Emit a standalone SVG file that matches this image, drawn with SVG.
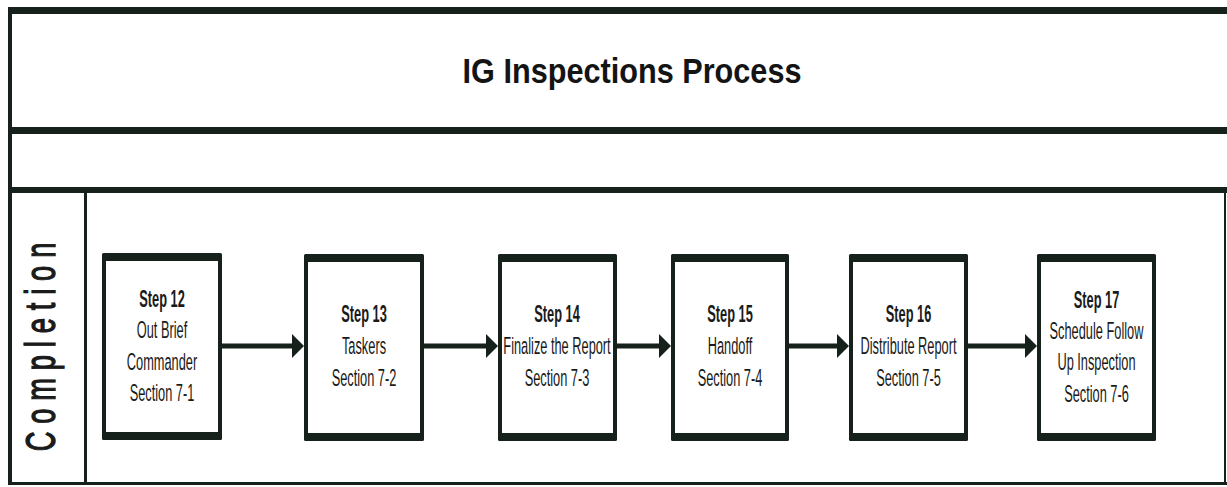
<svg xmlns="http://www.w3.org/2000/svg" width="1227" height="487" viewBox="0 0 1227 487">
  <defs>
    <style>
      .ln { fill: #17211c; }
      .bx { fill: #17211c; }
      .in { fill: #ffffff; }
      .t { font-family: "Liberation Sans", Arial, sans-serif; font-size: 23.7px; fill: #1a1a1a; text-anchor: middle; }
      .b { font-weight: bold; }
      .title { font-family: "Liberation Sans", Arial, sans-serif; font-size: 35px; font-weight: bold; fill: #141414; text-anchor: middle; }
      .lane { font-family: "Liberation Sans", Arial, sans-serif; font-size: 42px; fill: #1a1a1a; stroke: #1a1a1a; stroke-width: 1.3; text-anchor: middle; }
      .con { stroke: #17211c; stroke-width: 5; fill: none; }
    </style>
    <marker id="ah" markerUnits="userSpaceOnUse" markerWidth="12" markerHeight="24" refX="6" refY="12" orient="auto">
      <path d="M0,0 L12,12 L0,24 Z" fill="#17211c"/>
    </marker>
  </defs>

  <rect width="1227" height="487" fill="#ffffff"/>

  <g id="frame">
    <rect class="ln" x="9" y="7" width="1218" height="7"/>
    <rect class="ln" x="9" y="127" width="1218" height="7"/>
    <rect class="ln" x="9" y="187" width="1218" height="6"/>
    <rect class="ln" x="8" y="7" width="4" height="478"/>
    <rect class="ln" x="8" y="482" width="1219" height="3"/>
    <rect class="ln" x="1224" y="190" width="2" height="295"/>
    <rect class="ln" x="84" y="190" width="3" height="295"/>
  </g>

  <g id="title">
    <text class="title" transform="translate(632,83) scale(0.876,1)">IG Inspections Process</text>
  </g>

  <g id="lane-completion">
    <text class="lane" transform="translate(55,347) rotate(-90) scale(0.65,1)" textLength="321" lengthAdjust="spacing">Completion</text>
  </g>

  <g id="connectors">
    <line class="con" x1="222" y1="346" x2="298" y2="346" marker-end="url(#ah)"/>
    <line class="con" x1="424" y1="346" x2="492" y2="346" marker-end="url(#ah)"/>
    <line class="con" x1="616" y1="346" x2="665" y2="346" marker-end="url(#ah)"/>
    <line class="con" x1="789" y1="346" x2="843" y2="346" marker-end="url(#ah)"/>
    <line class="con" x1="968" y1="346" x2="1031" y2="346" marker-end="url(#ah)"/>
  </g>

  <g id="step12">
    <rect class="bx" x="102" y="253" width="120" height="187" rx="1.5"/>
    <rect class="in" x="106" y="261" width="112" height="171"/>
    <text class="t b" transform="translate(162,306.5) scale(0.54,1)">Step 12</text>
    <text class="t" transform="translate(162,338) scale(0.54,1)">Out Brief</text>
    <text class="t" transform="translate(162,369.5) scale(0.54,1)">Commander</text>
    <text class="t" transform="translate(162,401) scale(0.54,1)">Section 7-1</text>
  </g>

  <g id="step13">
    <rect class="bx" x="304" y="254" width="120" height="187" rx="1.5"/>
    <rect class="in" x="308" y="262" width="112" height="171"/>
    <text class="t b" transform="translate(364,322) scale(0.54,1)">Step 13</text>
    <text class="t" transform="translate(364,354) scale(0.54,1)">Taskers</text>
    <text class="t" transform="translate(364,386) scale(0.54,1)">Section 7-2</text>
  </g>

  <g id="step14">
    <rect class="bx" x="498" y="254" width="119" height="187" rx="1.5"/>
    <rect class="in" x="502" y="262" width="111" height="171"/>
    <text class="t b" transform="translate(557,322) scale(0.54,1)">Step 14</text>
    <text class="t" transform="translate(557,354) scale(0.54,1)">Finalize the Report</text>
    <text class="t" transform="translate(557,386) scale(0.54,1)">Section 7-3</text>
  </g>

  <g id="step15">
    <rect class="bx" x="671" y="254" width="118" height="187" rx="1.5"/>
    <rect class="in" x="675" y="262" width="110" height="171"/>
    <text class="t b" transform="translate(730,322) scale(0.54,1)">Step 15</text>
    <text class="t" transform="translate(730,354) scale(0.54,1)">Handoff</text>
    <text class="t" transform="translate(730,386) scale(0.54,1)">Section 7-4</text>
  </g>

  <g id="step16">
    <rect class="bx" x="849" y="254" width="119" height="187" rx="1.5"/>
    <rect class="in" x="853" y="262" width="111" height="171"/>
    <text class="t b" transform="translate(908.5,322) scale(0.54,1)">Step 16</text>
    <text class="t" transform="translate(908.5,354) scale(0.54,1)">Distribute Report</text>
    <text class="t" transform="translate(908.5,386) scale(0.54,1)">Section 7-5</text>
  </g>

  <g id="step17">
    <rect class="bx" x="1037" y="254" width="119" height="187" rx="1.5"/>
    <rect class="in" x="1041" y="262" width="111" height="171"/>
    <text class="t b" transform="translate(1096.5,307.5) scale(0.54,1)">Step 17</text>
    <text class="t" transform="translate(1096.5,339) scale(0.54,1)">Schedule Follow</text>
    <text class="t" transform="translate(1096.5,370) scale(0.54,1)">Up Inspection</text>
    <text class="t" transform="translate(1096.5,401.5) scale(0.54,1)">Section 7-6</text>
  </g>
</svg>
